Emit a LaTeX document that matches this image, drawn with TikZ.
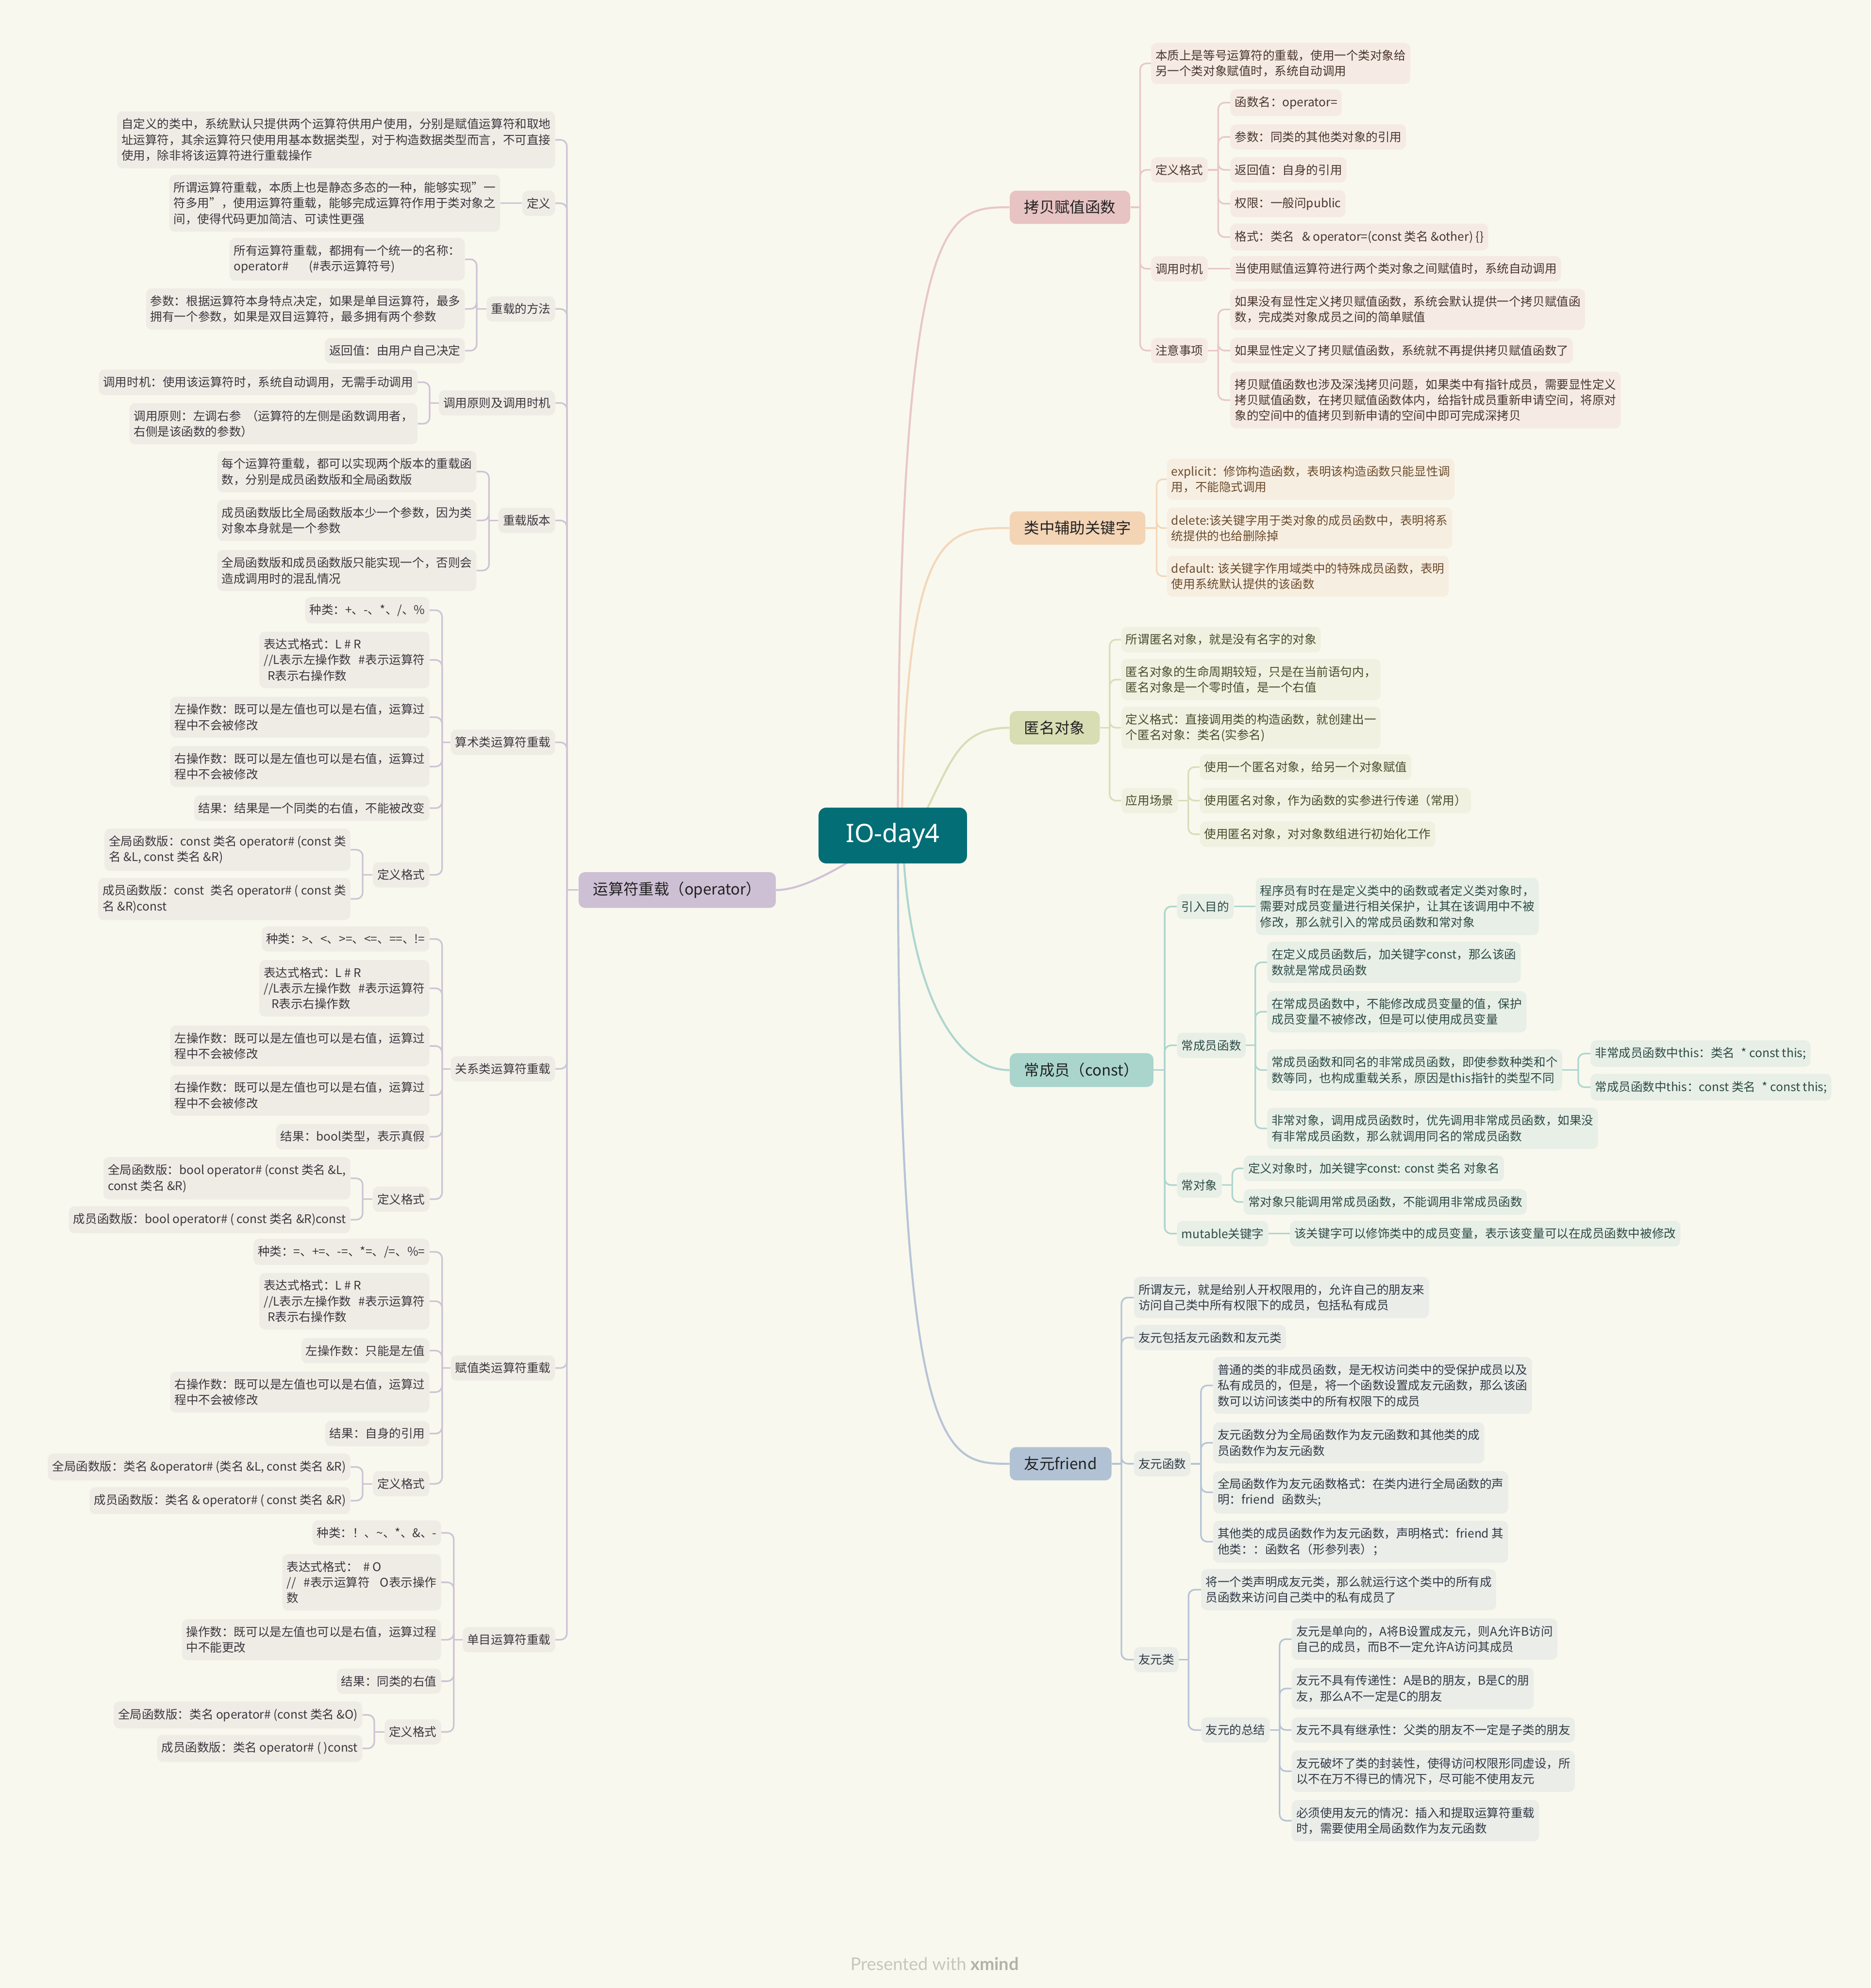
\documentclass[tikz,border=0pt]{standalone}
\usepackage{fontspec}
\setmainfont{Noto Sans CJK SC}
\newfontfamily\hubfont{Noto Sans}
\newfontfamily\creditfont{Lato}
\definecolor{cBg}{HTML}{F9F8EE}
\definecolor{cHub}{HTML}{036E75}
\definecolor{cT}{HTML}{222222}
\definecolor{cW}{HTML}{C6C6BE}
\definecolor{cWb}{HTML}{B2B2AA}
\definecolor{cK}{HTML}{E8C3C3}\definecolor{lK}{HTML}{E8C7C7}\definecolor{fK}{HTML}{F5EBE4}\definecolor{tK}{HTML}{4A3530}
\definecolor{cF}{HTML}{F3D4B5}\definecolor{lF}{HTML}{F3D7BA}\definecolor{fF}{HTML}{F7EEE2}\definecolor{tF}{HTML}{6B4C2C}
\definecolor{cN}{HTML}{D8DDB3}\definecolor{lN}{HTML}{D9DDB8}\definecolor{fN}{HTML}{F0F1E0}\definecolor{tN}{HTML}{4A4C2E}
\definecolor{cC}{HTML}{A9D5CD}\definecolor{lC}{HTML}{ADD6CF}\definecolor{fC}{HTML}{E7EFE6}\definecolor{tC}{HTML}{2E4A47}
\definecolor{cY}{HTML}{B2C2D5}\definecolor{lY}{HTML}{B6C4D6}\definecolor{fY}{HTML}{EAEDE8}\definecolor{tY}{HTML}{323A46}
\definecolor{cO}{HTML}{CDBFD4}\definecolor{lO}{HTML}{CFC3D6}\definecolor{fO}{HTML}{EFECE6}\definecolor{tO}{HTML}{3C373E}
\pgfdeclarelayer{paper}
\pgfdeclarelayer{wires}
\pgfsetlayers{paper,wires,main}
\tikzset{
  hub/.style={rounded corners=6pt, fill=cHub, text=white, font=\hubfont\fontsize{20}{24}\selectfont,
    minimum width=117pt, minimum height=44pt, inner sep=0pt},
  topic/.style={rounded corners=5pt, fill=#1, text=cT, font=\fontsize{12}{14}\selectfont,
    inner xsep=11.5pt, inner ysep=7.6pt},
  memo/.style 2 args={rounded corners=4.5pt, fill=#1, text=#2, align=left,
    font=\fontsize{9.4}{12.4}\selectfont, inner xsep=3.5pt, inner ysep=5.6pt},
  pinkleaf/.style={memo={fK}{tK}, anchor=west},
  peachleaf/.style={memo={fF}{tF}, anchor=west},
  oliveleaf/.style={memo={fN}{tN}, anchor=west},
  tealleaf/.style={memo={fC}{tC}, anchor=west},
  blueleaf/.style={memo={fY}{tY}, anchor=west},
  lilacleaf/.style={memo={fO}{tO}, anchor=east},
  twig/.style={draw=#1, line width=1.25pt, rounded corners=5pt},
  limb/.style={draw=#1, line width=1.6pt},
}
\begin{document}
\begin{tikzpicture}[x=1pt,y=-1pt]
\useasboundingbox (0,0) rectangle (1475,1568);
\begin{pgfonlayer}{paper}\fill[cBg] (0,0) rectangle (1475,1568);\end{pgfonlayer}
% --- centre ---
\node[hub] (io) at (704,659) {IO-day4};
\node[font=\creditfont\fontsize{13.8}{16}\selectfont, text=cW] (credit) at (737,1549) {Presented with \textcolor{cWb}{\bfseries xmind}};
% --- 拷贝赋值函数 ---
\node[topic=cK, anchor=west] (k) at (796,163.5) {拷贝赋值函数};
\node[pinkleaf] (k1) at (907.5,50) {本质上是等号运算符的重载，使用一个类对象给\\另一个类对象赋值时，系统自动调用};
\node[pinkleaf] (k2) at (907.5,134) {定义格式};
\node[pinkleaf] (k21) at (970,81) {函数名：operator=};
\node[pinkleaf] (k22) at (970,108) {参数：同类的其他类对象的引用};
\node[pinkleaf] (k23) at (970,134) {返回值：自身的引用};
\node[pinkleaf] (k24) at (970,160.7) {权限：一般问public};
\node[pinkleaf] (k25) at (970,187) {格式：类名\hspace{6pt}\& operator=(const 类名 \&other) \{\}};
\node[pinkleaf] (k3) at (907.5,212) {调用时机};
\node[pinkleaf] (k31) at (970,212) {当使用赋值运算符进行两个类对象之间赋值时，系统自动调用};
\node[pinkleaf] (k4) at (907.5,276.5) {注意事项};
\node[pinkleaf] (k41) at (970,244) {如果没有显性定义拷贝赋值函数，系统会默认提供一个拷贝赋值函\\数，完成类对象成员之间的简单赋值};
\node[pinkleaf] (k42) at (970,276.5) {如果显性定义了拷贝赋值函数，系统就不再提供拷贝赋值函数了};
\node[pinkleaf] (k43) at (970,315.5) {拷贝赋值函数也涉及深浅拷贝问题，如果类中有指针成员，需要显性定义\\拷贝赋值函数，在拷贝赋值函数体内，给指针成员重新申请空间，将原对\\象的空间中的值拷贝到新申请的空间中即可完成深拷贝};
% --- 类中辅助关键字 ---
\node[topic=cF, anchor=west] (f) at (796,416.5) {类中辅助关键字};
\node[peachleaf] (f1) at (920,378) {explicit：修饰构造函数，表明该构造函数只能显性调\\用，不能隐式调用};
\node[peachleaf] (f2) at (920,416.5) {delete:该关键字用于类对象的成员函数中，表明将系\\统提供的也给删除掉};
\node[peachleaf] (f3) at (920,454.5) {default: 该关键字作用域类中的特殊成员函数，表明\\使用系统默认提供的该函数};
% --- 匿名对象 ---
\node[topic=cN, anchor=west] (n) at (796,574) {匿名对象};
\node[oliveleaf] (n1) at (884,504.5) {所谓匿名对象，就是没有名字的对象};
\node[oliveleaf] (n2) at (884,536) {匿名对象的生命周期较短，只是在当前语句内，\\匿名对象是一个零时值，是一个右值};
\node[oliveleaf] (n3) at (884,574) {定义格式：直接调用类的构造函数，就创建出一\\个匿名对象：类名(实参名)};
\node[oliveleaf] (n4) at (884,631.5) {应用场景};
\node[oliveleaf] (n41) at (946,605) {使用一个匿名对象，给另一个对象赋值};
\node[oliveleaf] (n42) at (946,631.5) {使用匿名对象，作为函数的实参进行传递（常用）};
\node[oliveleaf] (n43) at (946,658) {使用匿名对象，对对象数组进行初始化工作};
% --- 常成员（const） ---
\node[topic=cC, anchor=west] (c) at (796,844) {常成员（const）};
\node[tealleaf] (c1) at (928,715) {引入目的};
\node[tealleaf] (c11) at (990,715) {程序员有时在是定义类中的函数或者定义类对象时，\\需要对成员变量进行相关保护，让其在该调用中不被\\修改，那么就引入的常成员函数和常对象};
\node[tealleaf] (c2) at (928,824.5) {常成员函数};
\node[tealleaf] (c21) at (999,759) {在定义成员函数后，加关键字const，那么该函\\数就是常成员函数};
\node[tealleaf] (c22) at (999,798) {在常成员函数中，不能修改成员变量的值，保护\\成员变量不被修改，但是可以使用成员变量};
\node[tealleaf] (c23) at (999,844) {常成员函数和同名的非常成员函数，即使参数种类和个\\数等同，也构成重载关系，原因是this指针的类型不同};
\node[tealleaf] (c231) at (1254,831) {非常成员函数中this：类名\hspace{5pt}* const this;};
\node[tealleaf] (c232) at (1254,857.5) {常成员函数中this：const 类名\hspace{5pt}* const this;};
\node[tealleaf] (c24) at (999,890) {非常对象，调用成员函数时，优先调用非常成员函数，如果没\\有非常成员函数，那么就调用同名的常成员函数};
\node[tealleaf] (c3) at (928,934.7) {常对象};
\node[tealleaf] (c31) at (980.5,921.5) {定义对象时，加关键字const: const 类名 对象名};
\node[tealleaf] (c32) at (980.5,948) {常对象只能调用常成员函数，不能调用非常成员函数};
\node[tealleaf] (c4) at (928,973) {mutable关键字};
\node[tealleaf] (c41) at (1017,973) {该关键字可以修饰类中的成员变量，表示该变量可以在成员函数中被修改};
% --- 友元friend ---
\node[topic=cY, anchor=west] (y) at (796,1154.5) {友元friend};
\node[blueleaf] (y1) at (894,1023.4) {所谓友元，就是给别人开权限用的，允许自己的朋友来\\访问自己类中所有权限下的成员，包括私有成员};
\node[blueleaf] (y2) at (894,1055) {友元包括友元函数和友元类};
\node[blueleaf] (y3) at (894,1154.5) {友元函数};
\node[blueleaf] (y31) at (956.4,1092.7) {普通的类的非成员函数，是无权访问类中的受保护成员以及\\私有成员的，但是，将一个函数设置成友元函数，那么该函\\数可以访问该类中的所有权限下的成员};
\node[blueleaf] (y32) at (956.4,1138) {友元函数分为全局函数作为友元函数和其他类的成\\员函数作为友元函数};
\node[blueleaf] (y33) at (956.4,1177) {全局函数作为友元函数格式：在类内进行全局函数的声\\明：friend\hspace{6pt}函数头;};
\node[blueleaf] (y34) at (956.4,1216) {其他类的成员函数作为友元函数，声明格式：friend 其\\他类：：函数名（形参列表）；};
\node[blueleaf] (y4) at (894,1309) {友元类};
\node[blueleaf] (y41) at (947,1253.8) {将一个类声明成友元类，那么就运行这个类中的所有成\\员函数来访问自己类中的私有成员了};
\node[blueleaf] (y42) at (947,1364.5) {友元的总结};
\node[blueleaf] (y421) at (1018.4,1292.8) {友元是单向的，A将B设置成友元，则A允许B访问\\自己的成员，而B不一定允许A访问其成员};
\node[blueleaf] (y422) at (1018.4,1331.8) {友元不具有传递性：A是B的朋友，B是C的朋\\友，那么A不一定是C的朋友};
\node[blueleaf] (y423) at (1018.4,1364.5) {友元不具有继承性：父类的朋友不一定是子类的朋友};
\node[blueleaf] (y424) at (1018.4,1397) {友元破坏了类的封装性，使得访问权限形同虚设，所\\以不在万不得已的情况下，尽可能不使用友元};
\node[blueleaf] (y425) at (1018.4,1436) {必须使用友元的情况：插入和提取运算符重载\\时，需要使用全局函数作为友元函数};
% --- 运算符重载（operator） ---
\node[topic=cO, anchor=east] (o) at (612,702) {运算符重载（operator）};
\node[lilacleaf] (o1) at (437.9,110.3) {自定义的类中，系统默认只提供两个运算符供用户使用，分别是赋值运算符和取地\\址运算符，其余运算符只使用用基本数据类型，对于构造数据类型而言，不可直接\\使用，除非将该运算符进行重载操作};
\node[lilacleaf] (o2) at (437.9,160.3) {定义};
\node[lilacleaf] (o21) at (394.5,160.3) {所谓运算符重载，本质上也是静态多态的一种，能够实现"一\\符多用"，使用运算符重载，能够完成运算符作用于类对象之\\间，使得代码更加简洁、可读性更强};
\node[lilacleaf] (o3) at (437.9,243.7) {重载的方法};
\node[lilacleaf] (o31) at (366.7,204.5) {所有运算符重载，都拥有一个统一的名称：\\operator\#\hspace{16pt}(\#表示运算符号)};
\node[lilacleaf] (o32) at (366.7,243.7) {参数：根据运算符本身特点决定，如果是单目运算符，最多\\拥有一个参数，如果是双目运算符，最多拥有两个参数};
\node[lilacleaf] (o33) at (366.7,276.6) {返回值：由用户自己决定};
\node[lilacleaf] (o4) at (437.9,317.8) {调用原则及调用时机};
\node[lilacleaf] (o41) at (329.4,301.5) {调用时机：使用该运算符时，系统自动调用，无需手动调用};
\node[lilacleaf] (o42) at (329.4,334.2) {调用原则：左调右参\hspace{4pt}（运算符的左侧是函数调用者，\\右侧是该函数的参数）};
\node[lilacleaf] (o5) at (437.9,410.5) {重载版本};
\node[lilacleaf] (o51) at (375.9,372) {每个运算符重载，都可以实现两个版本的重载函\\数，分别是成员函数版和全局函数版};
\node[lilacleaf] (o52) at (375.9,410.5) {成员函数版比全局函数版本少一个参数，因为类\\对象本身就是一个参数};
\node[lilacleaf] (o53) at (375.9,450) {全局函数版和成员函数版只能实现一个，否则会\\造成调用时的混乱情况};
\node[lilacleaf] (o6) at (437.9,585.5) {算术类运算符重载};
\node[lilacleaf] (o61) at (338.8,481.3) {种类：+、-、*、/、\%};
\node[lilacleaf] (o62) at (338.8,520.5) {表达式格式：L \# R\\//L表示左操作数\hspace{6pt}\#表示运算符\\\hspace*{3pt}R表示右操作数};
\node[lilacleaf] (o63) at (338.8,565.7) {左操作数：既可以是左值也可以是右值，运算过\\程中不会被修改};
\node[lilacleaf] (o64) at (338.8,604.6) {右操作数：既可以是左值也可以是右值，运算过\\程中不会被修改};
\node[lilacleaf] (o65) at (338.8,637.4) {结果：结果是一个同类的右值，不能被改变};
\node[lilacleaf] (o66) at (338.8,690) {定义格式};
\node[lilacleaf] (o661) at (276.5,670.2) {全局函数版：const 类名 operator\# (const 类\\名 \&L, const 类名 \&R)};
\node[lilacleaf] (o662) at (276.5,709) {成员函数版：const\hspace{5pt}类名 operator\# ( const 类\\名 \&R)const};
\node[lilacleaf] (o7) at (437.9,843) {关系类运算符重载};
\node[lilacleaf] (o71) at (338.8,740.6) {种类：>、<、>=、<=、==、!=};
\node[lilacleaf] (o72) at (338.8,779.5) {表达式格式：L \# R\\//L表示左操作数\hspace{6pt}\#表示运算符\\\hspace*{6pt}R表示右操作数};
\node[lilacleaf] (o73) at (338.8,825) {左操作数：既可以是左值也可以是右值，运算过\\程中不会被修改};
\node[lilacleaf] (o74) at (338.8,863.8) {右操作数：既可以是左值也可以是右值，运算过\\程中不会被修改};
\node[lilacleaf] (o75) at (338.8,896.5) {结果：bool类型，表示真假};
\node[lilacleaf] (o76) at (338.8,945.8) {定义格式};
\node[lilacleaf] (o761) at (276.5,929.4) {全局函数版：bool operator\# (const 类名 \&L,\\const 类名 \&R)};
\node[lilacleaf] (o762) at (276.5,962) {成员函数版：bool operator\# ( const 类名 \&R)const};
\node[lilacleaf] (o8) at (437.9,1079) {赋值类运算符重载};
\node[lilacleaf] (o81) at (338.8,987.4) {种类：=、+=、-=、*=、/=、\%=};
\node[lilacleaf] (o82) at (338.8,1026.3) {表达式格式：L \# R\\//L表示左操作数\hspace{6pt}\#表示运算符\\\hspace*{3pt}R表示右操作数};
\node[lilacleaf] (o83) at (338.8,1065.3) {左操作数：只能是左值};
\node[lilacleaf] (o84) at (338.8,1098) {右操作数：既可以是左值也可以是右值，运算过\\程中不会被修改};
\node[lilacleaf] (o85) at (338.8,1130.7) {结果：自身的引用};
\node[lilacleaf] (o86) at (338.8,1170.3) {定义格式};
\node[lilacleaf] (o861) at (276.5,1157) {全局函数版：类名 \&operator\# (类名 \&L, const 类名 \&R)};
\node[lilacleaf] (o862) at (276.5,1183.6) {成员函数版：类名 \& operator\# ( const 类名 \&R)};
\node[lilacleaf] (o9) at (437.9,1293.3) {单目运算符重载};
\node[lilacleaf] (o91) at (348,1209) {种类：！、\textasciitilde、*、\&、-};
\node[lilacleaf] (o92) at (348,1248) {表达式格式：\hspace{4pt}\# O\\//\hspace{6pt}\#表示运算符\hspace{8pt}O表示操作\\数};
\node[lilacleaf] (o93) at (348,1293.3) {操作数：既可以是左值也可以是右值，运算过程\\中不能更改};
\node[lilacleaf] (o94) at (348,1326) {结果：同类的右值};
\node[lilacleaf] (o95) at (348,1366) {定义格式};
\node[lilacleaf] (o951) at (285.9,1352.6) {全局函数版：类名 operator\# (const 类名 \&O)};
\node[lilacleaf] (o952) at (285.9,1379) {成员函数版：类名 operator\# ( )const};
% --- spines ---
\coordinate (kj) at (899,163.5);   \coordinate (k2j) at (960.6,134); \coordinate (k4j) at (960.6,276.5);
\coordinate (fj) at (912,416.5);
\coordinate (nj) at (875,574);     \coordinate (n4j) at (937,631.5);
\coordinate (cj) at (918.4,844);   \coordinate (c2j) at (989.8,824.5); \coordinate (c23j) at (1244.5,844); \coordinate (c3j) at (971.7,934.7);
\coordinate (yj) at (884.3,1154.5); \coordinate (y3j) at (947,1154.5); \coordinate (y4j) at (937.2,1309); \coordinate (y42j) at (1009,1364.5);
\coordinate (oj) at (447,702);     \coordinate (o3j) at (375.9,243.7); \coordinate (o4j) at (338.8,317.8); \coordinate (o5j) at (385.6,410.5);
\coordinate (o6j) at (348.6,585.5); \coordinate (o66j) at (286,690); \coordinate (o7j) at (348.6,843); \coordinate (o76j) at (286,945.8);
\coordinate (o8j) at (348.6,1079); \coordinate (o86j) at (286,1170.3); \coordinate (o9j) at (357.8,1293.3); \coordinate (o95j) at (295.1,1366);
\begin{pgfonlayer}{wires}
% --- curves out of the centre ---
\draw[limb=lK] (708,659) .. controls (708,163.5) and (745,163.5) .. (k.west);
\draw[limb=lF] (711,659) .. controls (714,416.5) and (745,416.5) .. (f.west);
\draw[limb=lN] (720,659) .. controls (750,605) and (752,574) .. (n.west);
\draw[limb=lC] (712,659) .. controls (714,760) and (745,844) .. (c.west);
\draw[limb=lY] (708,659) .. controls (708,1154.5) and (745,1154.5) .. (y.west);
\draw[limb=lO] (io.center) .. controls (680,672) and (640,702) .. (o.east);
% --- right side ---
\draw[twig=lK] (k.east) -- (kj);
\foreach \c in {k1,k2,k3,k4}{\draw[twig=lK] (kj) |- (\c.west);}
\draw[twig=lK] (k2.east) -- (k2j);
\foreach \c in {k21,k22,k23,k24,k25}{\draw[twig=lK] (k2j) |- (\c.west);}
\draw[twig=lK] (k3.east) -- (k31.west);
\draw[twig=lK] (k4.east) -- (k4j);
\foreach \c in {k41,k42,k43}{\draw[twig=lK] (k4j) |- (\c.west);}
\draw[twig=lF] (f.east) -- (fj);
\foreach \c in {f1,f2,f3}{\draw[twig=lF] (fj) |- (\c.west);}
\draw[twig=lN] (n.east) -- (nj);
\foreach \c in {n1,n2,n3,n4}{\draw[twig=lN] (nj) |- (\c.west);}
\draw[twig=lN] (n4.east) -- (n4j);
\foreach \c in {n41,n42,n43}{\draw[twig=lN] (n4j) |- (\c.west);}
\draw[twig=lC] (c.east) -- (cj);
\foreach \c in {c1,c2,c3,c4}{\draw[twig=lC] (cj) |- (\c.west);}
\draw[twig=lC] (c1.east) -- (c11.west);
\draw[twig=lC] (c2.east) -- (c2j);
\foreach \c in {c21,c22,c23,c24}{\draw[twig=lC] (c2j) |- (\c.west);}
\draw[twig=lC] (c23.east) -- (c23j);
\foreach \c in {c231,c232}{\draw[twig=lC] (c23j) |- (\c.west);}
\draw[twig=lC] (c3.east) -- (c3j);
\foreach \c in {c31,c32}{\draw[twig=lC] (c3j) |- (\c.west);}
\draw[twig=lC] (c4.east) -- (c41.west);
\draw[twig=lY] (y.east) -- (yj);
\foreach \c in {y1,y2,y3,y4}{\draw[twig=lY] (yj) |- (\c.west);}
\draw[twig=lY] (y3.east) -- (y3j);
\foreach \c in {y31,y32,y33,y34}{\draw[twig=lY] (y3j) |- (\c.west);}
\draw[twig=lY] (y4.east) -- (y4j);
\foreach \c in {y41,y42}{\draw[twig=lY] (y4j) |- (\c.west);}
\draw[twig=lY] (y42.east) -- (y42j);
\foreach \c in {y421,y422,y423,y424,y425}{\draw[twig=lY] (y42j) |- (\c.west);}
% --- left side ---
\draw[twig=lO] (o.west) -- (oj);
\foreach \c in {o1,o2,o3,o4,o5,o6,o7,o8,o9}{\draw[twig=lO] (oj) |- (\c.east);}
\draw[twig=lO] (o2.west) -- (o21.east);
\draw[twig=lO] (o3.west) -- (o3j);
\foreach \c in {o31,o32,o33}{\draw[twig=lO] (o3j) |- (\c.east);}
\draw[twig=lO] (o4.west) -- (o4j);
\foreach \c in {o41,o42}{\draw[twig=lO] (o4j) |- (\c.east);}
\draw[twig=lO] (o5.west) -- (o5j);
\foreach \c in {o51,o52,o53}{\draw[twig=lO] (o5j) |- (\c.east);}
\draw[twig=lO] (o6.west) -- (o6j);
\foreach \c in {o61,o62,o63,o64,o65,o66}{\draw[twig=lO] (o6j) |- (\c.east);}
\draw[twig=lO] (o66.west) -- (o66j);
\foreach \c in {o661,o662}{\draw[twig=lO] (o66j) |- (\c.east);}
\draw[twig=lO] (o7.west) -- (o7j);
\foreach \c in {o71,o72,o73,o74,o75,o76}{\draw[twig=lO] (o7j) |- (\c.east);}
\draw[twig=lO] (o76.west) -- (o76j);
\foreach \c in {o761,o762}{\draw[twig=lO] (o76j) |- (\c.east);}
\draw[twig=lO] (o8.west) -- (o8j);
\foreach \c in {o81,o82,o83,o84,o85,o86}{\draw[twig=lO] (o8j) |- (\c.east);}
\draw[twig=lO] (o86.west) -- (o86j);
\foreach \c in {o861,o862}{\draw[twig=lO] (o86j) |- (\c.east);}
\draw[twig=lO] (o9.west) -- (o9j);
\foreach \c in {o91,o92,o93,o94,o95}{\draw[twig=lO] (o9j) |- (\c.east);}
\draw[twig=lO] (o95.west) -- (o95j);
\foreach \c in {o951,o952}{\draw[twig=lO] (o95j) |- (\c.east);}
\end{pgfonlayer}
\end{tikzpicture}
\end{document}
